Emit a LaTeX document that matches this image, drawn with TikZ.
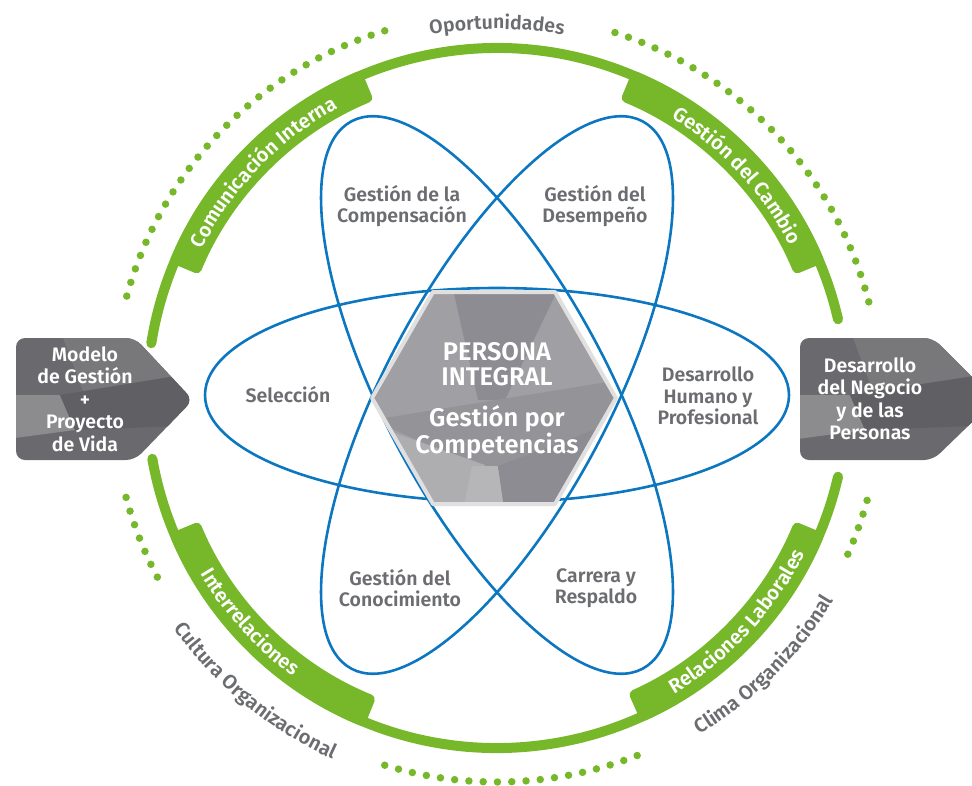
\documentclass[tikz,border=0pt]{standalone}
\usepackage{fontspec}
\setmainfont{Fira Sans}[BoldFont={Fira Sans SemiBold}]
\usetikzlibrary{decorations.text}
\definecolor{grn}{RGB}{118,184,42}
\definecolor{blu}{RGB}{12,119,192}
\definecolor{txtg}{RGB}{108,109,112}
\definecolor{hexA}{RGB}{160,160,164}
\definecolor{hexB}{RGB}{140,140,146}
\definecolor{hexC}{RGB}{174,174,177}
\definecolor{hexD}{RGB}{148,148,152}
\definecolor{boxA}{RGB}{106,106,110}
\definecolor{boxB}{RGB}{120,120,123}
\definecolor{boxC}{RGB}{96,96,100}
\tikzset{
  ringline/.style={draw=grn, line width=10pt, line cap=round},
  dotline/.style={draw=grn, line width=7.5pt, line cap=round, dash pattern=on 0pt off 14.3pt},
  orbit/.style={draw=blu, line width=2.6pt},
  lbl/.style={text=txtg, font=\bfseries\fontsize{19.5}{21.5}\selectfont, align=center, inner sep=0pt},
  boxtxt/.style={text=white, font=\bfseries\fontsize{19.5}{22.5}\selectfont, align=center, inner sep=0pt},
  hextxt/.style={text=white, font=\bfseries\fontsize{25.5}{25}\selectfont, align=center, inner sep=0pt},
}
\begin{document}
\begin{tikzpicture}[x=1pt,y=1pt]
\useasboundingbox (0,0) rectangle (972,-785);
\clip (0,0) rectangle (972,-785);
\coordinate (C) at (497,-398);

% ---------- green ring, bands, dotted arcs and curved labels ----------
\begin{scope}[shift={(497,-398)}]
  \draw[ringline] (13:350) arc[start angle=13, end angle=171, radius=350];
  \draw[ringline] (190:350) arc[start angle=190, end angle=347, radius=350];
  \foreach \a/\b in {22.5/67.5, 112.5/157.5, 202.5/248, 294/337.5}{
    \fill[grn, rounded corners=5pt] (\a:355) arc[start angle=\a, end angle=\b, radius=355]
      -- (\b:322) arc[start angle=\b, end angle=\a, radius=322] -- cycle;
  }
  \draw[dotline] (107:384) arc[start angle=107, end angle=166, radius=384];
  \draw[dotline] (14.5:384) arc[start angle=14.5, end angle=73, radius=384];
  \draw[dotline] (195:384) arc[start angle=195, end angle=208, radius=384];
  \draw[dotline] (253:384) arc[start angle=253, end angle=292, radius=384];
  \draw[dotline] (336:384) arc[start angle=336, end angle=345, radius=384];

  \path[decorate, decoration={text along path, text align=center,
    text={|\color{txtg}\bfseries\fontsize{19.5}{20}\selectfont|Oportunidades}}]
    (115:369) arc[start angle=115, end angle=65, radius=369];
  \path[decorate, decoration={text along path, text align=center,
    text={|\color{white}\bfseries\fontsize{20}{20}\selectfont|Comunicación Interna}}]
    (166:330.5) arc[start angle=166, end angle=106, radius=330.5];
  \path[decorate, decoration={text along path, text align=center,
    text={|\color{white}\bfseries\fontsize{20}{20}\selectfont|Gestión del Cambio}}]
    (72.8:330.5) arc[start angle=72.8, end angle=12.8, radius=330.5];
  \path[decorate, decoration={text along path, text align=center,
    text={|\color{white}\bfseries\fontsize{20}{20}\selectfont|Interrelaciones}}]
    (192.2:345) arc[start angle=192.2, end angle=252.2, radius=345];
  \path[decorate, decoration={text along path, text align=center,
    text={|\color{white}\bfseries\fontsize{20}{20}\selectfont|Relaciones Laborales}}]
    (287:345) arc[start angle=287, end angle=347, radius=345];
  \path[decorate, decoration={text along path, text align=center,
    text={|\color{txtg}\bfseries\fontsize{20}{20}\selectfont|Cultura Organizacional}}]
    (200.5:397) arc[start angle=200.5, end angle=260.5, radius=397];
  \path[decorate, decoration={text along path, text align=center,
    text={|\color{txtg}\bfseries\fontsize{20}{20}\selectfont|Clima Organizacional}}]
    (285:393) arc[start angle=285, end angle=345, radius=393];
\end{scope}

% ---------- orbits ----------
\draw[orbit] (497,-395) ellipse[x radius=292, y radius=107];
\begin{scope}[shift={(497,-395)}, rotate=62]
  \draw[orbit] (0,0) ellipse[x radius=310, y radius=112];
\end{scope}
\begin{scope}[shift={(497,-395)}, rotate=-62]
  \draw[orbit] (0,0) ellipse[x radius=310, y radius=112];
\end{scope}

% ---------- central hexagon ----------
\begin{scope}
  \clip (616,-398) -- (555,-292) -- (433,-292) -- (372,-398) -- (433,-504) -- (555,-504) -- cycle;
  \fill[hexA] (360,-280) rectangle (630,-515);
  \fill[hexB] (452,-285) -- (560,-285) -- (505,-400) -- (478,-400) -- cycle;
  \fill[hexD] (372,-420) -- (620,-380) -- (620,-470) -- (485,-470) -- cycle;
  \fill[hexC] (372,-425) -- (485,-465) -- (472,-515) -- (372,-515) -- cycle;
  \fill[hexC!90!white] (472,-466) -- (498,-466) -- (505,-515) -- (462,-515) -- cycle;
  \fill[hexB] (498,-466) -- (620,-420) -- (620,-515) -- (505,-515) -- cycle;
\end{scope}
\draw[draw=white!88!black, line width=4pt, line join=round]
  (616,-398) -- (555,-292) -- (433,-292) -- (372,-398) -- (433,-504) -- (555,-504) -- cycle;
\node[hextxt] (persona) at (497,-364) {PERSONA\\INTEGRAL};
\node[hextxt] (gpc) at (497,-432) {Gestión por\\Competencias};

% ---------- orbit labels ----------
\node[lbl] (compen) at (402,-206) {Gestión de la\\Compensación};
\node[lbl] (desemp) at (595,-206) {Gestión del\\Desempeño};
\node[lbl] (selec) at (288,-395) {Selección};
\node[lbl] (dhp) at (708,-396) {Desarrollo\\Humano y\\Profesional};
\node[lbl] (conoc) at (400,-588) {Gestión del\\Conocimiento};
\node[lbl] (carrera) at (596,-588) {Carrera y\\Respaldo};

% ---------- side arrow boxes ----------
\begin{scope}
  \clip[rounded corners=9pt] (16,-338) -- (135,-338) -- (193,-400) -- (135,-460) -- (16,-460) -- cycle;
  \fill[boxA] (0,-330) rectangle (200,-470);
  \fill[boxB] (60,-330) -- (200,-330) -- (200,-370) -- (90,-410) -- cycle;
  \fill[boxB!85!white] (0,-395) -- (60,-395) -- (75,-430) -- (0,-440) -- cycle;
  \fill[boxC] (60,-395) -- (200,-372) -- (200,-425) -- (75,-430) -- cycle;
\end{scope}
\node[boxtxt] (modelo) at (85,-399) {Modelo\\de Gestión\\+\\Proyecto\\de Vida};

\begin{scope}
  \clip[rounded corners=9pt] (800,-338) -- (933,-338) -- (995,-400) -- (933,-460) -- (800,-460) -- cycle;
  \fill[boxA] (790,-330) rectangle (1000,-470);
  \fill[boxB] (850,-330) -- (1000,-330) -- (1000,-370) -- (880,-410) -- cycle;
  \fill[boxB!85!white] (790,-395) -- (850,-395) -- (865,-430) -- (790,-440) -- cycle;
  \fill[boxC] (850,-395) -- (1000,-372) -- (1000,-425) -- (865,-430) -- cycle;
\end{scope}
\node[boxtxt] (negocio) at (870,-399) {Desarrollo\\del Negocio\\y de las\\Personas};
\end{tikzpicture}
\end{document}
